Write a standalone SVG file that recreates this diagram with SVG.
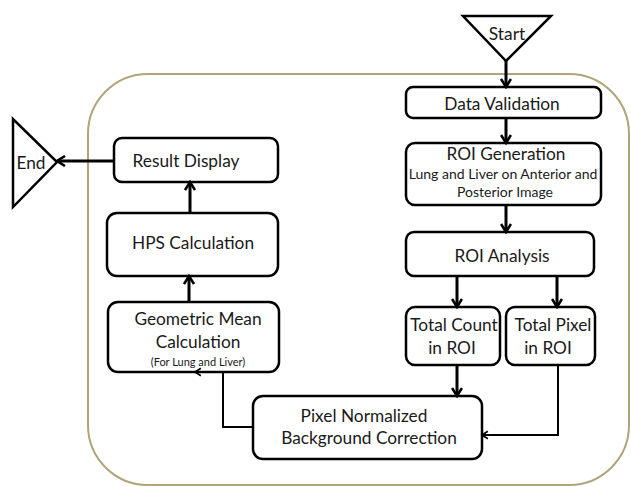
<svg xmlns="http://www.w3.org/2000/svg" width="631" height="487" viewBox="0 0 631 487">
<defs>
<style>
.box{fill:#fff;stroke:#000;stroke-width:2.5}
.t{font-family:Lato,"Open Sans","Liberation Sans",sans-serif;fill:#1a1a1a;text-anchor:middle;dominant-baseline:central}
.m{font-size:17.3px}
.s{font-size:14px}
.xs{font-size:11px}
.c{fill:none;stroke:#000;stroke-width:3}
.ct{fill:none;stroke:#000;stroke-width:2}
</style>
<marker id="ah" viewBox="0 0 12 12" refX="10" refY="6" markerWidth="12" markerHeight="12" markerUnits="userSpaceOnUse" orient="auto">
<path d="M2,1 L10,6 L2,11" fill="none" stroke="#000" stroke-width="2.6"/>
</marker>
<marker id="aht" viewBox="0 0 12 12" refX="10" refY="6" markerWidth="10" markerHeight="10" markerUnits="userSpaceOnUse" orient="auto">
<path d="M3,1.5 L10,6 L3,10.5" fill="none" stroke="#000" stroke-width="2"/>
</marker>
</defs>
<rect width="631" height="487" fill="#fff"/>
<rect id="boundary" x="88" y="74" width="541" height="411" rx="60" ry="60" fill="none" stroke="#b0a47a" stroke-width="2"/>

<g id="start">
<polygon points="463,16 551,16 506,61" fill="#fff" stroke="#000" stroke-width="2.5"/>
<text class="t m" x="507" y="33">Start</text>
</g>
<g id="end">
<polygon points="13,119 13,207 57,162" fill="#fff" stroke="#000" stroke-width="2.5"/>
<text class="t m" x="31" y="162">End</text>
</g>
<g id="data-validation">
<rect class="box" x="406" y="87" width="195" height="31" rx="7"/>
<text class="t m" x="502" y="103">Data Validation</text>
</g>
<g id="roi-generation">
<rect class="box" x="406" y="143" width="195" height="62" rx="9"/>
<text class="t m" x="506" y="153">ROI Generation</text>
<text class="t s" x="503" y="173">Lung and Liver on Anterior and</text>
<text class="t s" x="505" y="191">Posterior Image</text>
</g>
<g id="roi-analysis">
<rect class="box" x="406" y="232" width="188" height="44" rx="8"/>
<text class="t m" x="502" y="255">ROI Analysis</text>
</g>
<g id="total-count">
<rect class="box" x="406" y="307" width="94" height="58" rx="9"/>
<text class="t m" x="454" y="324">Total Count</text>
<text class="t m" x="452" y="347">in ROI</text>
</g>
<g id="total-pixel">
<rect class="box" x="506" y="307" width="89" height="58" rx="9"/>
<text class="t m" x="553" y="324">Total Pixel</text>
<text class="t m" x="548" y="347">in ROI</text>
</g>
<g id="pixel-normalized">
<rect class="box" x="253" y="396" width="229" height="63" rx="10"/>
<text class="t m" x="364" y="415">Pixel Normalized</text>
<text class="t m" x="369" y="437">Background Correction</text>
</g>
<g id="geometric-mean">
<rect class="box" x="108" y="302" width="171" height="70" rx="10"/>
<text class="t m" x="198" y="318">Geometric Mean</text>
<text class="t m" x="198" y="341">Calculation</text>
<text class="t xs" x="198" y="361">(For Lung and Liver)</text>
</g>
<g id="hps-calculation">
<rect class="box" x="107" y="213" width="171" height="63" rx="10"/>
<text class="t m" x="193" y="242">HPS Calculation</text>
</g>
<g id="result-display">
<rect class="box" x="114" y="138" width="164" height="44" rx="8"/>
<text class="t m" x="186" y="160">Result Display</text>
</g>

<g id="connectors">
<path class="c" d="M506,61 V87" marker-end="url(#ah)"/>
<path class="c" d="M506,118 V143" marker-end="url(#ah)"/>
<path class="c" d="M506,205 V232" marker-end="url(#ah)"/>
<path class="c" d="M457,276 V307" marker-end="url(#ah)"/>
<path class="c" d="M557,276 V307" marker-end="url(#ah)"/>
<path class="c" d="M457,365 V396" marker-end="url(#ah)"/>
<path class="ct" d="M558,365 V435 H482" marker-end="url(#aht)"/>
<path class="ct" d="M253,427 H223 V372 H195" marker-end="url(#aht)"/>
<path class="c" d="M189,302 V276" marker-end="url(#ah)"/>
<path class="c" d="M190,213 V182" marker-end="url(#ah)"/>
<path class="c" d="M114,161 H57" marker-end="url(#ah)"/>
</g>
</svg>
